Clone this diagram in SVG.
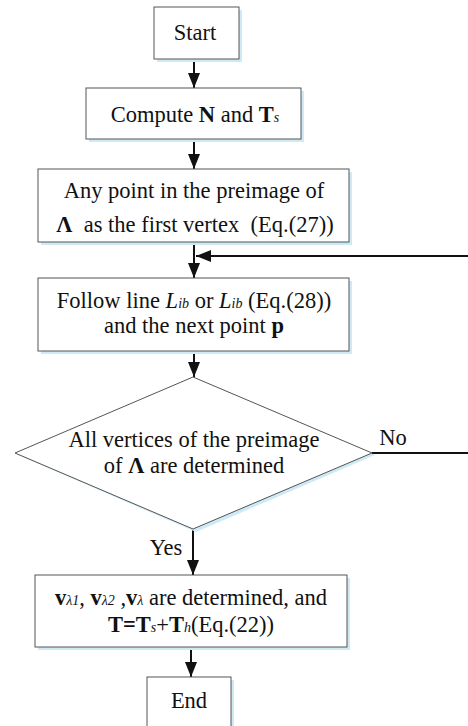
<svg xmlns="http://www.w3.org/2000/svg" width="468" height="726" viewBox="0 0 468 726">
<defs>
<style>
.box{fill:#fff;stroke:#555;stroke-width:1}
.sh{fill:#cdeaf6}
.t{font-family:"Liberation Serif","Times New Roman",serif;font-size:22.5px;fill:#111;text-anchor:middle}
.b{font-weight:bold}
.i{font-style:italic}
.sub{font-size:14px;font-style:italic}
.ln{fill:none;stroke:#111;stroke-width:2}
</style>
<marker id="ah" markerWidth="15" markerHeight="12" refX="15" refY="6" orient="auto" markerUnits="userSpaceOnUse">
<path d="M0,0 L15,6 L0,12 Z" fill="#111"/>
</marker>
</defs>
<rect width="468" height="726" fill="#fff"/>
<g id="connectors">
<line class="ln" x1="194" y1="59" x2="194" y2="88" marker-end="url(#ah)"/>
<line class="ln" x1="194" y1="139" x2="194" y2="169" marker-end="url(#ah)"/>
<line class="ln" x1="194" y1="242" x2="194" y2="278" marker-end="url(#ah)"/>
<line class="ln" x1="194" y1="351" x2="194" y2="377" marker-end="url(#ah)"/>
<polyline class="ln" points="372,453 470,453 470,256 196,256" marker-end="url(#ah)"/>
<line class="ln" x1="193" y1="530" x2="193" y2="575" marker-end="url(#ah)"/>
<line class="ln" x1="191" y1="647" x2="191" y2="677" marker-end="url(#ah)"/>
<text class="t" x="393" y="445">No</text>
<text class="t" x="166" y="555">Yes</text>
</g>
<g id="start">
<rect class="sh" x="157" y="10" width="85" height="52"/>
<rect class="box" x="154" y="7" width="85" height="52"/>
<text class="t" x="195" y="40">Start</text>
</g>
<g id="compute">
<rect class="sh" x="89" y="91" width="215" height="51"/>
<rect class="box" x="86" y="88" width="215" height="51"/>
<text class="t" x="195" y="122">Compute <tspan class="b">N</tspan> and <tspan class="b">T</tspan><tspan class="sub">s</tspan></text>
</g>
<g id="first">
<rect class="sh" x="41" y="172" width="311" height="73"/>
<rect class="box" x="38" y="169" width="311" height="73"/>
<text class="t" x="194" y="198">Any point in the preimage of</text>
<text class="t" x="195" y="232" xml:space="preserve"><tspan class="b">Λ</tspan>  as the first vertex  (Eq.(27))</text>
</g>
<g id="follow">
<rect class="sh" x="41" y="281" width="311" height="73"/>
<rect class="box" x="38" y="278" width="311" height="73"/>
<text class="t" x="194" y="308">Follow line <tspan class="i">L</tspan><tspan class="sub">ib</tspan> or <tspan class="i">L</tspan><tspan class="sub">ib</tspan> (Eq.(28))</text>
<text class="t" x="194" y="333">and the next point <tspan class="b">p</tspan></text>
</g>
<g id="decision">
<polygon class="sh" points="196,378 375,455 196,532 18,455"/>
<polygon class="box" points="193,377 372,453 193,529 15,453"/>
<text class="t" x="194" y="447">All vertices of the preimage</text>
<text class="t" x="194" y="473">of <tspan class="b">Λ</tspan> are determined</text>
</g>
<g id="result">
<rect class="sh" x="38" y="578" width="312" height="72"/>
<rect class="box" x="35" y="575" width="312" height="72"/>
<text class="t" x="191" y="605"><tspan class="b">v</tspan><tspan class="sub">λ1</tspan>, <tspan class="b">v</tspan><tspan class="sub">λ2</tspan> ,<tspan class="b">v</tspan><tspan class="sub">λ</tspan> are determined, and</text>
<text class="t" x="191" y="632"><tspan class="b">T=T</tspan><tspan class="sub">s</tspan>+<tspan class="b">T</tspan><tspan class="sub">h</tspan>(Eq.(22))</text>
</g>
<g id="end">
<rect class="sh" x="150" y="680" width="84" height="52"/>
<rect class="box" x="147" y="677" width="84" height="52"/>
<text class="t" x="189" y="708">End</text>
</g>
</svg>
